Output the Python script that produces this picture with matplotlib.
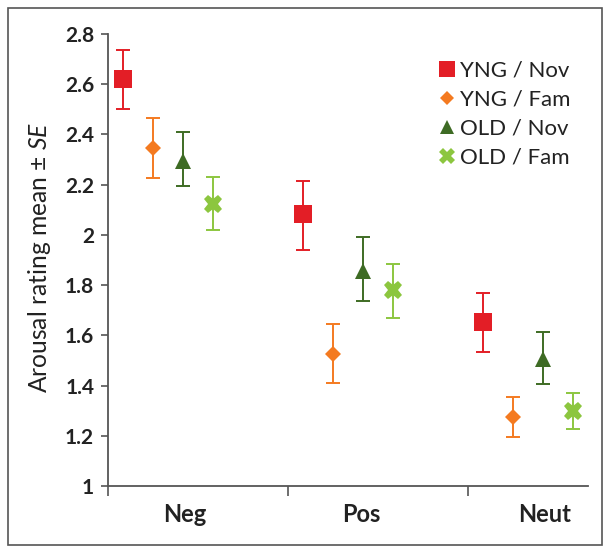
import matplotlib
matplotlib.use("Agg")
import matplotlib.pyplot as plt
from matplotlib.patches import Rectangle
import numpy as np

plt.rcParams['font.family'] = ['Lato', 'DejaVu Sans']
plt.rcParams['mathtext.fontset'] = 'custom'
plt.rcParams['mathtext.it'] = 'Lato:italic'
plt.rcParams['mathtext.rm'] = 'Lato'

categories = ["Neg", "Pos", "Neut"]
series = ["YNG / Nov", "YNG / Fam", "OLD / Nov", "OLD / Fam"]
means = {
    "YNG / Nov": [2.62, 2.085, 1.655],
    "YNG / Fam": [2.345, 1.525, 1.275],
    "OLD / Nov": [2.295, 1.855, 1.505],
    "OLD / Fam": [2.125, 1.78, 1.30],
}
lower = {
    "YNG / Nov": [2.50, 1.94, 1.535],
    "YNG / Fam": [2.225, 1.41, 1.195],
    "OLD / Nov": [2.195, 1.735, 1.405],
    "OLD / Fam": [2.02, 1.67, 1.225],
}
upper = {
    "YNG / Nov": [2.735, 2.215, 1.77],
    "YNG / Fam": [2.465, 1.645, 1.355],
    "OLD / Nov": [2.41, 1.99, 1.615],
    "OLD / Fam": [2.23, 1.885, 1.37],
}
yticks = [1, 1.2, 1.4, 1.6, 1.8, 2, 2.2, 2.4, 2.6, 2.8]
ytick_labels = ["1", "1.2", "1.4", "1.6", "1.8", "2", "2.2", "2.4", "2.6", "2.8"]

colors = ["#E31E26", "#F47A20", "#3E6B24", "#8CC63F"]
markers = ["s", "D", "^", "X"]
msizes = [13, 8.5, 11.5, 13]

fig = plt.figure(figsize=(6.12, 5.53), dpi=100)
fig.patches.append(Rectangle((8/612, 1 - 545/553), 594/612, 537/553,
                             transform=fig.transFigure, fill=False,
                             edgecolor="#555555", linewidth=1.2))
ax = fig.add_axes([108/612, 1 - 486/553, 480/612, 452/553])

group_start = [1, 7, 13]
for i, s in enumerate(series):
    xs = np.array(group_start) + i
    m = np.array(means[s])
    lo = m - np.array(lower[s])
    hi = np.array(upper[s]) - m
    ax.errorbar(xs, m, yerr=[lo, hi], fmt="none", ecolor=colors[i],
                elinewidth=1.4, capsize=5, capthick=1.4, zorder=2)
    ax.plot(xs, m, linestyle="none", marker=markers[i], color=colors[i],
            markersize=msizes[i], markeredgewidth=0, label=s, zorder=3)

ax.set_xlim(0.5, 16.5)
ax.set_ylim(1, 2.8)
ax.set_yticks(yticks)
ax.set_yticklabels(ytick_labels, fontsize=15, fontweight="bold", color="#222222")
ax.set_xticks([0.5, 6.5, 12.5])
ax.set_xticklabels([])
ax.set_xticks([3.05, 8.93, 15.05], minor=True)
ax.set_xticklabels(categories, minor=True, fontsize=17, fontweight="bold", color="#222222")
ax.tick_params(axis="x", which="minor", length=0, pad=12)
ax.tick_params(axis="x", which="major", length=7, width=1.2, color="#555555", direction="out")
ax.tick_params(axis="y", length=5, width=1.2, color="#555555", direction="out", pad=5)
for side in ["top", "right"]:
    ax.spines[side].set_visible(False)
for side in ["left", "bottom"]:
    ax.spines[side].set_color("#555555")
    ax.spines[side].set_linewidth(1.3)

ax.set_ylabel("Arousal rating mean ± $\\mathit{SE}$", fontsize=17.7, color="#222222", labelpad=6)
ax.yaxis.set_label_coords(-0.114, 0.505)

leg = ax.legend(loc="upper right", bbox_to_anchor=(1.005, 0.985), frameon=False,
                fontsize=16, handletextpad=0.1, handlelength=0.95,
                labelspacing=0.4, markerscale=0.85)
for t in leg.get_texts():
    t.set_color("#222222")

fig.savefig("out.png", dpi=100)
